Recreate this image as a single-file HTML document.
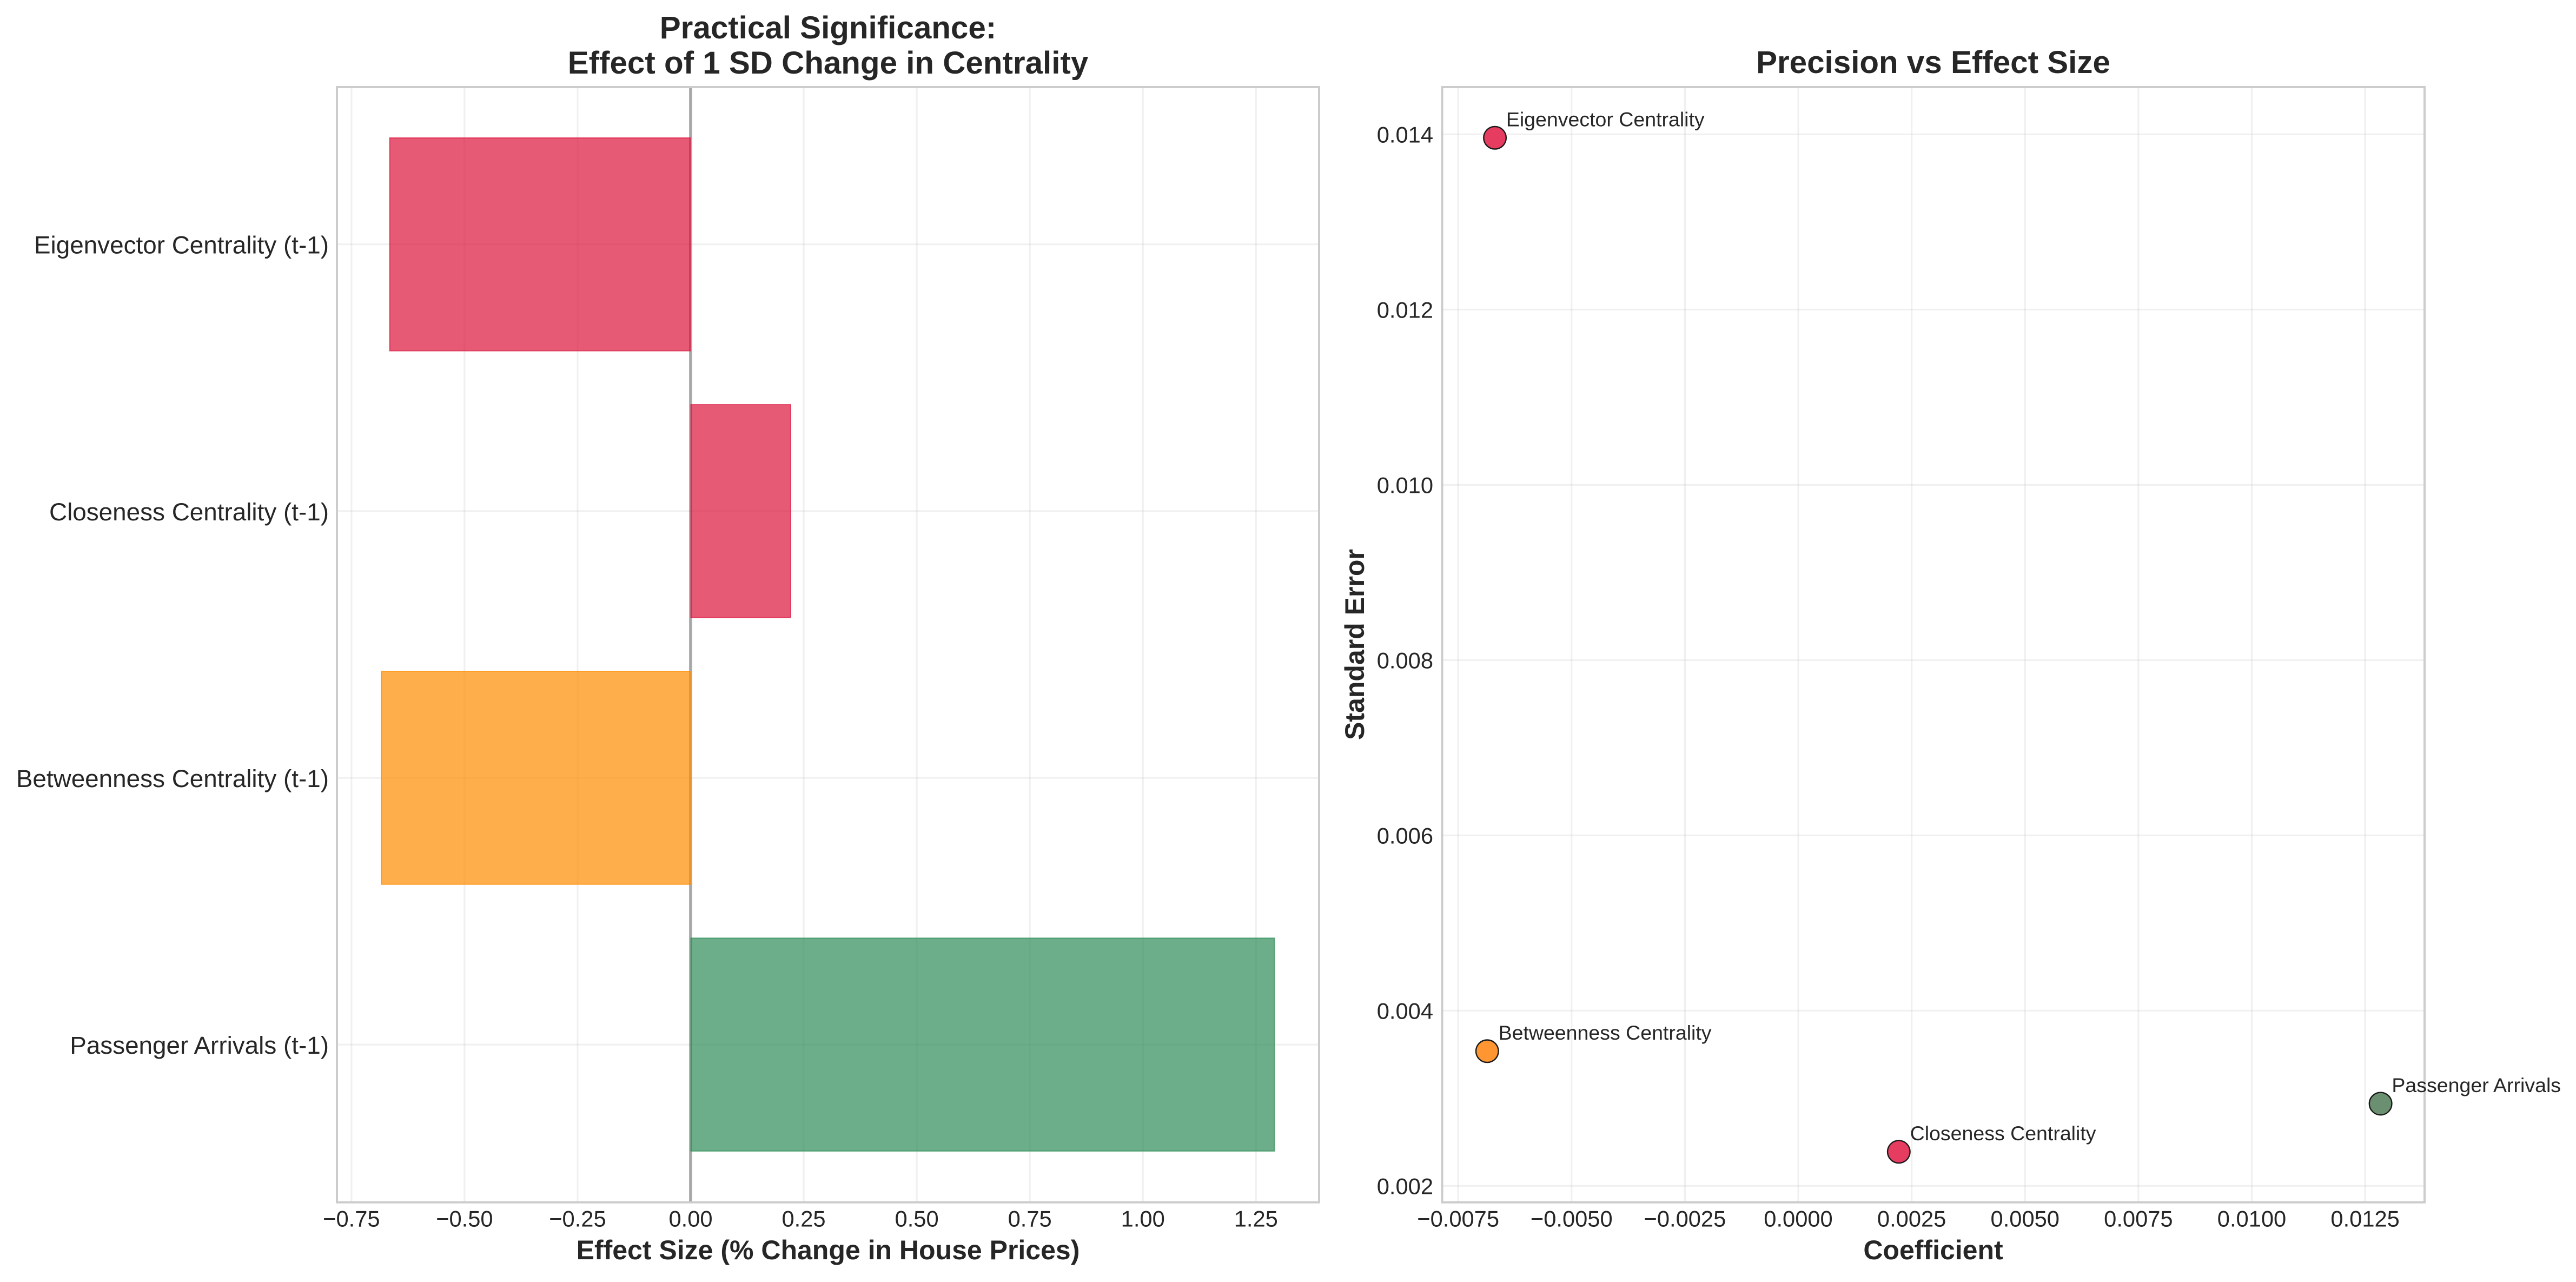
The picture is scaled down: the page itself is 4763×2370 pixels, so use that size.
<!DOCTYPE html>
<html lang="en">
<head>
<meta charset="utf-8">
<title>Practical Significance and Precision vs Effect Size</title>
<style>
html,body{margin:0;padding:0;background:#fff;width:4763px;height:2370px;overflow:hidden}
svg{display:block}
text{font-family:"Liberation Sans",Arial,sans-serif;fill:#262626}
.title{font-size:58.33px;font-weight:bold;text-anchor:middle}
.axis-title{font-size:50px;font-weight:bold;text-anchor:middle}
.tick{font-size:41.67px}
.cat{font-size:45.83px;text-anchor:end}
.note{font-size:37.5px}
</style>
</head>
<body>
<svg id="chart" xmlns="http://www.w3.org/2000/svg" width="4763" height="2370" viewBox="0 0 4763 2370">
<rect width="4763" height="2370" fill="#ffffff"/>
<g id="left-panel"></g>
<g id="right-panel"></g>
<text class="title" x="1531" y="71">Practical Significance:</text>
<text class="title" x="1531" y="136">Effect of 1 SD Change in Centrality</text>
<text class="axis-title" x="1531" y="2328">Effect Size (% Change in House Prices)</text>
<text class="title" x="3574.5" y="135">Precision vs Effect Size</text>
<text class="axis-title" x="3574.5" y="2328">Coefficient</text>
<text class="axis-title" x="0" y="0" transform="translate(2522 1191.5) rotate(-90)">Standard Error</text>
</svg>
<script>
const barCategories = ["Passenger Arrivals (t-1)", "Betweenness Centrality (t-1)", "Closeness Centrality (t-1)", "Eigenvector Centrality (t-1)"];
const barValues = [1.2915, -0.6846, 0.2216, -0.666];
const barColors = ["#2e8b57", "#ff8c00", "#dc143c", "#dc143c"];
const barTickValues = [-0.75, -0.5, -0.25, 0, 0.25, 0.5, 0.75, 1, 1.25];
const barTickLabels = ["\u22120.75", "\u22120.50", "\u22120.25", "0.00", "0.25", "0.50", "0.75", "1.00", "1.25"];

const pointLabels = ["Passenger Arrivals", "Betweenness Centrality", "Closeness Centrality", "Eigenvector Centrality"];
const pointCoefficients = [0.01284, -0.00686, 0.002216, -0.00669];
const pointStdErrors = [0.002938, 0.003537, 0.002389, 0.01396];
const pointColors = ["#6b8f71", "#ff9632", "#e53c60", "#e53c60"];
const coefTickValues = [-0.0075, -0.005, -0.0025, 0, 0.0025, 0.005, 0.0075, 0.01, 0.0125];
const coefTickLabels = ["\u22120.0075", "\u22120.0050", "\u22120.0025", "0.0000", "0.0025", "0.0050", "0.0075", "0.0100", "0.0125"];
const seTickValues = [0.002, 0.004, 0.006, 0.008, 0.01, 0.012, 0.014];
const seTickLabels = ["0.002", "0.004", "0.006", "0.008", "0.010", "0.012", "0.014"];

const NS = "http://www.w3.org/2000/svg";
function make(parent, tag, attrs, txt) {
  const el = document.createElementNS(NS, tag);
  for (const k in attrs) el.setAttribute(k, attrs[k]);
  if (txt !== undefined) el.textContent = txt;
  parent.appendChild(el);
  return el;
}
function slug(s) {
  return s.toLowerCase().replace(/[^a-z0-9]+/g, "-").replace(/^-|-$/g, "");
}

const L = { left: 623, right: 2439, top: 161, bottom: 2222.7 };
const R = { left: 2666.5, right: 4483, top: 161, bottom: 2222.7 };
const effectX = v => 1277 + v * 836.2;
const rowY = i => 1931.1 - i * 493.13;
const BAR_H = 394.6;
const coefX = v => 3325 + v * 83850;
const seY = v => 2192.3 - (v - 0.002) * 162000;
const GRID = "#cccccc";

const left = document.getElementById("left-panel");
const right = document.getElementById("right-panel");

/* left panel: grid */
barTickValues.forEach((v, i) => {
  const line = make(left, "line", { x1: effectX(v), x2: effectX(v), y1: L.top, y2: L.bottom, stroke: GRID, "stroke-opacity": 0.3, "stroke-width": 3.2 });
  
  
  const t = make(left, "text", { class: "tick", x: effectX(v), y: 2267.5, "text-anchor": "middle" }, barTickLabels[i]);
  
  
});
barCategories.forEach((c, i) => {
  const line = make(left, "line", { x1: L.left, x2: L.right, y1: rowY(i), y2: rowY(i), stroke: GRID, "stroke-opacity": 0.3, "stroke-width": 3.2 });
  
  
  const t = make(left, "text", { class: "cat", x: 608, y: rowY(i) + 17 }, c);
  
  
});
/* left panel: zero line */
const zeroLine = make(left, "line", { x1: effectX(0), x2: effectX(0), y1: L.top, y2: L.bottom, stroke: "#000000", "stroke-opacity": 0.3, "stroke-width": 6 });


/* left panel: bars */
barValues.forEach((v, i) => {
  const x0 = Math.min(effectX(0), effectX(v));
  const x1 = Math.max(effectX(0), effectX(v));
  const bar = make(left, "rect", {
    x: x0 + 0.5, y: rowY(i) - BAR_H / 2 + 0.5, width: x1 - x0 - 1, height: BAR_H - 1,
    fill: barColors[i], "fill-opacity": 0.7,
    stroke: barColors[i], "stroke-opacity": 0.7, "stroke-width": 2
  });
  
  
});
/* left panel: frame */
const leftFrame = make(left, "rect", { x: L.left, y: L.top, width: L.right - L.left, height: L.bottom - L.top, fill: "none", stroke: "#cccccc", "stroke-width": 4 });



/* right panel: grid */
coefTickValues.forEach((v, i) => {
  const line = make(right, "line", { x1: coefX(v), x2: coefX(v), y1: R.top, y2: R.bottom, stroke: GRID, "stroke-opacity": 0.3, "stroke-width": 3.2 });
  
  
  const t = make(right, "text", { class: "tick", x: coefX(v), y: 2267.5, "text-anchor": "middle" }, coefTickLabels[i]);
  
  
});
seTickValues.forEach((v, i) => {
  const line = make(right, "line", { x1: R.left, x2: R.right, y1: seY(v), y2: seY(v), stroke: GRID, "stroke-opacity": 0.3, "stroke-width": 3.2 });
  
  
  const t = make(right, "text", { class: "tick", x: 2650, y: seY(v) + 15, "text-anchor": "end" }, seTickLabels[i]);
  
  
});
/* right panel: frame */
const rightFrame = make(right, "rect", { x: R.left, y: R.top, width: R.right - R.left, height: R.bottom - R.top, fill: "none", stroke: "#cccccc", "stroke-width": 4 });


/* right panel: points */
pointCoefficients.forEach((v, i) => {
  const cx = coefX(v);
  const cy = seY(pointStdErrors[i]);
  const dot = make(right, "circle", { cx: cx, cy: cy, r: 20.8, fill: pointColors[i], stroke: "#1a1a1a", "stroke-width": 2.4 });
  
  
  const t = make(right, "text", { class: "note", x: cx + 20.8, y: cy - 21.5 }, pointLabels[i]);
  
  
});
</script>
</body>
</html>
